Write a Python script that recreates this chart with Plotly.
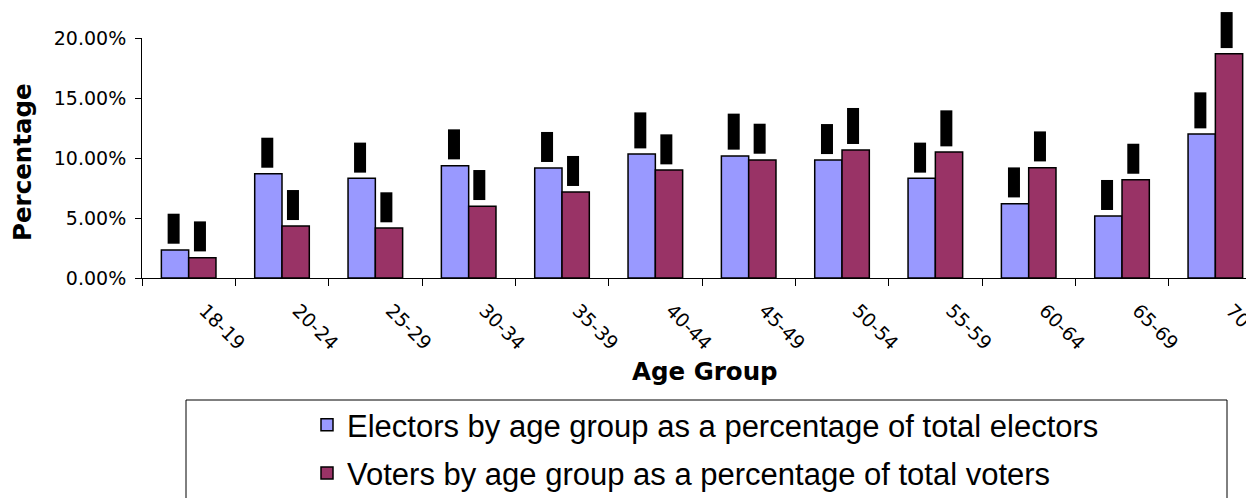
import plotly.graph_objects as go

age_groups = ["18-19", "20-24", "25-29", "30-34", "35-39", "40-44",
              "45-49", "50-54", "55-59", "60-64", "65-69", "70+"]
electors_pct = [2.33, 8.69, 8.31, 9.36, 9.17, 10.33, 10.17, 9.83, 8.31, 6.19, 5.17, 12.00]
voters_pct = [1.69, 4.33, 4.17, 5.97, 7.17, 9.00, 9.83, 10.67, 10.50, 9.19, 8.19, 18.69]

series_names = ["Electors by age group as a percentage of total electors",
                "Voters by age group as a percentage of total voters"]
series_colors = ["#9999FF", "#993366"]
x_title = "Age Group"
y_title = "Percentage"

electors = [v / 100 for v in electors_pct]
voters = [v / 100 for v in voters_pct]

fig = go.Figure()
for name, vals, col, grp in [(series_names[0], electors, series_colors[0], "e"),
                             (series_names[1], voters, series_colors[1], "v")]:
    fig.add_trace(go.Bar(
        x=age_groups, y=vals, name=name, legendgroup=grp,
        marker=dict(color=col, line=dict(color="black", width=1.5)),
    ))

# data labels (rendered as black boxes in the reference)
for vals, shift in [(electors, -15), (voters, 11)]:
    for cat, v in zip(age_groups, vals):
        fig.add_annotation(
            x=cat, y=v, xref="x", yref="y",
            text=f"{v*100:.1f}%", showarrow=False,
            textangle=-90, xanchor="center", yanchor="bottom",
            xshift=shift, yshift=6,
            font=dict(family="Liberation Sans", size=11, color="black"),
            bgcolor="black", borderpad=2.5, borderwidth=0, height=7,
        )

# page has an 8px body margin: figure coordinates = page coordinates - 8
OFF = 8
PL, PT, PW, PH = 142 - OFF, 38 - OFF, 1112, 240

def px_x(p):
    return (p - OFF - PL) / PW

def px_y(p):
    return 1 - (p - OFF - PT) / PH

# axis titles
fig.add_annotation(
    text=x_title, xref="paper", yref="paper", x=px_x(705), y=px_y(371),
    xanchor="center", yanchor="middle", showarrow=False,
    font=dict(family="DejaVu Sans", size=24.5, weight="bold", color="black"),
)
fig.add_annotation(
    text=y_title, xref="paper", yref="paper", x=px_x(22.5), y=px_y(162.5),
    xanchor="center", yanchor="middle", showarrow=False, textangle=-90,
    font=dict(family="DejaVu Sans", size=24.5, weight="bold", color="black"),
)

# legend frame
fig.add_shape(type="rect", xref="paper", yref="paper",
              x0=px_x(186), x1=px_x(1227),
              y0=px_y(400), y1=px_y(530),
              line=dict(color="black", width=1), fillcolor="rgba(0,0,0,0)",
              layer="above")

fig.update_layout(
    width=1246, height=490,
    margin=dict(l=PL, r=1246 - PL - PW, t=PT, b=490 - PT - PH, autoexpand=False),
    paper_bgcolor="white", plot_bgcolor="white",
    bargap=0.415, bargroupgap=0,
    barmode="group",
    showlegend=True,
    legend=dict(
        x=px_x(307), y=px_y(398),
        xanchor="left", yanchor="top",
        orientation="v", traceorder="grouped", tracegroupgap=5,
        font=dict(family="Liberation Sans", size=31, color="black"),
        bgcolor="rgba(0,0,0,0)", borderwidth=0,
    ),
    font=dict(family="DejaVu Sans", color="black"),
)

fig.update_xaxes(
    type="category", range=[-0.5, 11.414],
    showline=True, linecolor="black", linewidth=1,
    ticks="outside", tickson="boundaries", ticklen=7, tickcolor="black",
    tickangle=45, tickfont=dict(family="DejaVu Sans", size=19, color="black"),
    ticklabelshift=16, ticklabelstandoff=13,
    showgrid=False, automargin=False,
)
fig.update_yaxes(
    range=[0, 0.2], tickvals=[0, 0.05, 0.10, 0.15, 0.20], tickformat=".2%",
    showline=True, linecolor="black", linewidth=1,
    ticks="outside", ticklen=6, tickcolor="black",
    tickfont=dict(family="DejaVu Sans", size=19, color="black"),
    ticklabelstandoff=5,
    showgrid=False, zeroline=False, automargin=False,
)

fig.write_html("out.html")
